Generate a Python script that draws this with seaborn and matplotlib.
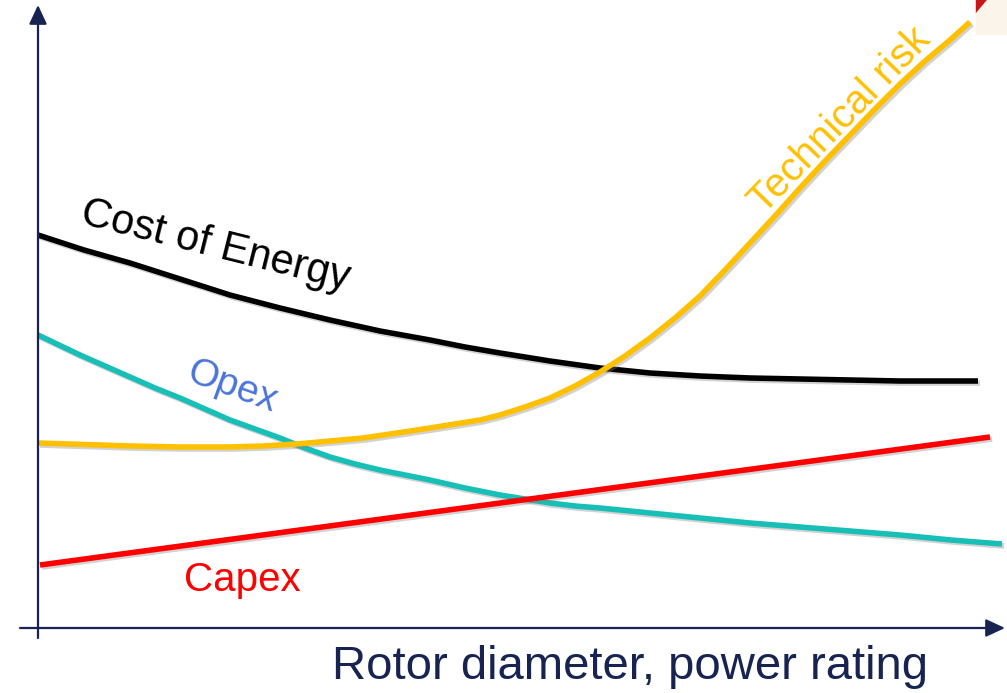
import matplotlib
matplotlib.use("Agg")
import matplotlib.pyplot as plt
import matplotlib.patheffects as pe
from matplotlib.patches import Polygon, Rectangle
import seaborn as sns
import pandas as pd

# values (arbitrary units, origin at the axes cross)
coe_x = [0, 0.46, 0.92, 1.42, 1.92, 2.42, 2.92, 3.42, 3.92, 4.27, 4.62, 5.12, 5.62,
         6.12, 6.62, 7.12, 7.62, 8.12, 8.62, 9.40]
coe_y = [3.93, 3.78, 3.65, 3.49, 3.33, 3.20, 3.08, 2.97, 2.88, 2.81, 2.75, 2.67, 2.60,
         2.55, 2.52, 2.50, 2.49, 2.48, 2.47, 2.47]

opex_x = [0, 0.21, 0.42, 0.67, 0.92, 1.17, 1.42, 1.67, 1.92, 2.17, 2.42, 2.67, 2.92,
          3.17, 3.42, 3.67, 3.92, 4.27, 4.62, 4.87, 5.12, 5.37, 5.62, 6.12, 6.62,
          7.12, 7.62, 8.12, 8.62, 9.13, 9.64]
opex_y = [2.93, 2.83, 2.73, 2.62, 2.51, 2.40, 2.30, 2.19, 2.08, 1.99, 1.90, 1.80, 1.71,
          1.64, 1.58, 1.53, 1.48, 1.40, 1.33, 1.29, 1.25, 1.22, 1.20, 1.15, 1.10,
          1.05, 1.01, 0.97, 0.93, 0.88, 0.84]

risk_x = [0, 0.46, 0.92, 1.42, 1.92, 2.25, 2.59, 2.92, 3.25, 3.59, 3.92, 4.17, 4.42,
          4.62, 4.87, 5.12, 5.37, 5.62, 5.87, 6.12, 6.37, 6.62, 6.87, 7.12, 7.37,
          7.62, 7.87, 8.12, 8.37, 8.62, 8.87, 9.12, 9.32]
risk_y = [1.85, 1.835, 1.82, 1.81, 1.81, 1.82, 1.84, 1.87, 1.90, 1.95, 2.00, 2.04, 2.08,
          2.13, 2.21, 2.30, 2.42, 2.56, 2.72, 2.90, 3.10, 3.32, 3.58, 3.85, 4.12,
          4.40, 4.67, 4.93, 5.19, 5.44, 5.67, 5.88, 6.06]

capex_x = [0.02, 9.52]
capex_y = [0.63, 1.91]

navy = "#172451"
colors = {"coe": "#000000", "opex": "#17BFB7", "risk": "#FFC000", "capex": "#FF0000"}

sns.set_theme(style="white")
plt.rcParams["font.family"] = ["Liberation Sans", "DejaVu Sans"]

fig = plt.figure(figsize=(10.07, 6.93), dpi=100)
ax = fig.add_axes([0, 0, 1, 1])

shadow = [pe.SimpleLineShadow(offset=(1.5, -1.5), shadow_color="gray", alpha=0.35), pe.Normal()]

series = [("coe", coe_x, coe_y), ("opex", opex_x, opex_y),
          ("risk", risk_x, risk_y), ("capex", capex_x, capex_y)]
for key, xs, ys in series:
    df = pd.DataFrame({"x": xs, "y": ys})
    sns.lineplot(data=df, x="x", y="y", ax=ax, sort=False, color=colors[key],
                 linewidth=4.0, solid_capstyle="butt", solid_joinstyle="round",
                 path_effects=shadow)

ax.set_xlim(-0.38, 9.69)
ax.set_ylim(-0.65, 6.28)
ax.set_axis_off()

# axes arrows
arrow = dict(arrowstyle="-|>,head_length=0.58,head_width=0.27", color=navy,
             lw=1.6, shrinkA=0, shrinkB=0, mutation_scale=20)
ax.annotate("", xy=(0, 6.23), xytext=(0, -0.10), arrowprops=arrow)
ax.annotate("", xy=(9.67, 0), xytext=(-0.18, 0), arrowprops=arrow)

# labels
ax.text(1.77, 3.82, "Cost of Energy", fontsize=30, color="black",
        rotation=-14, ha="center", va="center", rotation_mode="anchor")
ax.text(1.94, 2.41, "Opex", fontsize=28, color="#4B74DB",
        rotation=-20, ha="center", va="center", rotation_mode="anchor")
ax.text(8.02, 5.08, "Technical risk", fontsize=29, color=colors["risk"],
        rotation=46, ha="center", va="center", rotation_mode="anchor")
ax.text(2.04, 0.48, "Capex", fontsize=29, color=colors["capex"],
        ha="center", va="center")
ax.text(5.92, -0.39, "Rotor diameter, power rating", fontsize=34, color=navy,
        ha="center", va="center")

# clipped slide corner
fig.add_artist(Rectangle((0.969, 0.949), 0.031, 0.051, transform=fig.transFigure,
                         facecolor="#FBF4EA", edgecolor="none"))
fig.add_artist(Polygon([(0.969, 1.0), (0.980, 1.0), (0.969, 0.981)], closed=True,
                       transform=fig.transFigure, facecolor="#C8161D", edgecolor="none"))

fig.savefig("out.png", dpi=100)
